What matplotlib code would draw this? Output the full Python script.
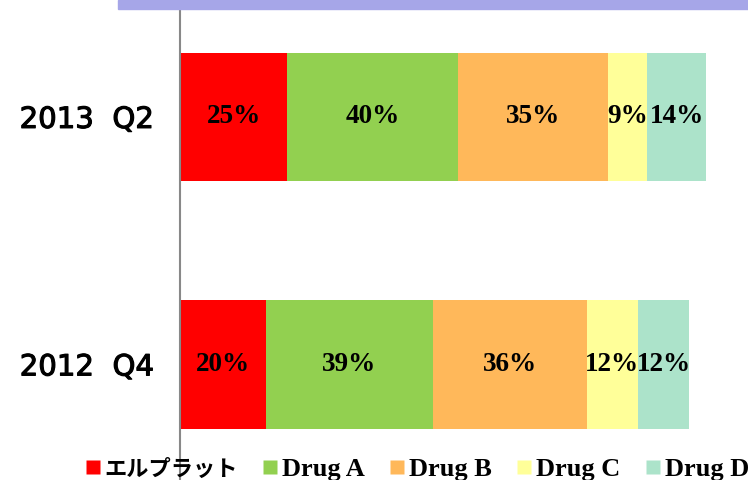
import matplotlib.pyplot as plt
import matplotlib.patheffects as pe
from matplotlib.patches import Rectangle
from matplotlib.lines import Line2D

# data
categories = ["2012  Q4", "2013  Q2"]
series = ["エルプラット", "Drug A", "Drug B", "Drug C", "Drug D"]
values = {
    "エルプラット": [20, 25],
    "Drug A": [39, 40],
    "Drug B": [36, 35],
    "Drug C": [12, 9],
    "Drug D": [12, 14],
}
colors = ["#FF0000", "#92D050", "#FFB85A", "#FFFF99", "#ACE3CA"]

fig = plt.figure(figsize=(7.48, 4.8), dpi=100)
ax = fig.add_axes([180 / 748, 0, 568 / 748, 471 / 480])

# lavender band at top
fig.patches.append(Rectangle((118 / 748, 471 / 480), 1, 9 / 480,
                             transform=fig.transFigure, color="#A6A6E8", zorder=0))

ypos = [0, 1]
left = [0, 0]
for name, col in zip(series, colors):
    vals = values[name]
    ax.barh(ypos, vals, left=left, height=0.518, color=col, edgecolor="none")
    for y, l, v in zip(ypos, left, vals):
        ax.text(l + v / 2, y, f"{v}%", ha="center", va="center",
                fontsize=19.5, fontweight="bold", family="Liberation Serif")
    left = [a + b for a, b in zip(left, vals)]

ax.set_xlim(0, 132.7)
ax.set_ylim(-0.467, 1.436)
ax.set_xticks([])
ax.set_yticks(ypos)
ax.set_yticklabels(categories, family="DejaVu Sans", fontsize=21)
for t in ax.get_yticklabels():
    t.set_path_effects([pe.withStroke(linewidth=0.8, foreground="black")])
ax.tick_params(axis="y", length=0, pad=19)
for s in ["top", "right", "bottom"]:
    ax.spines[s].set_visible(False)
ax.spines["left"].set_color("#888888")
ax.spines["left"].set_linewidth(1.5)

handles = [Line2D([], [], marker="s", linestyle="none", markersize=10.5,
                  markerfacecolor=c, markeredgecolor="none") for c in colors]
leg = fig.legend(handles, series, loc="center left", bbox_to_anchor=(85 / 748, 11 / 480),
                 ncol=5, frameon=False, handlelength=0.6, handletextpad=0.15,
                 columnspacing=0.92, borderpad=0, borderaxespad=0,
                 prop={"family": ["Liberation Serif", "Noto Sans CJK JP"],
                       "weight": "bold", "size": 19})
leg.get_texts()[0].set_fontsize(16)

fig.savefig("out.png", dpi=100)
